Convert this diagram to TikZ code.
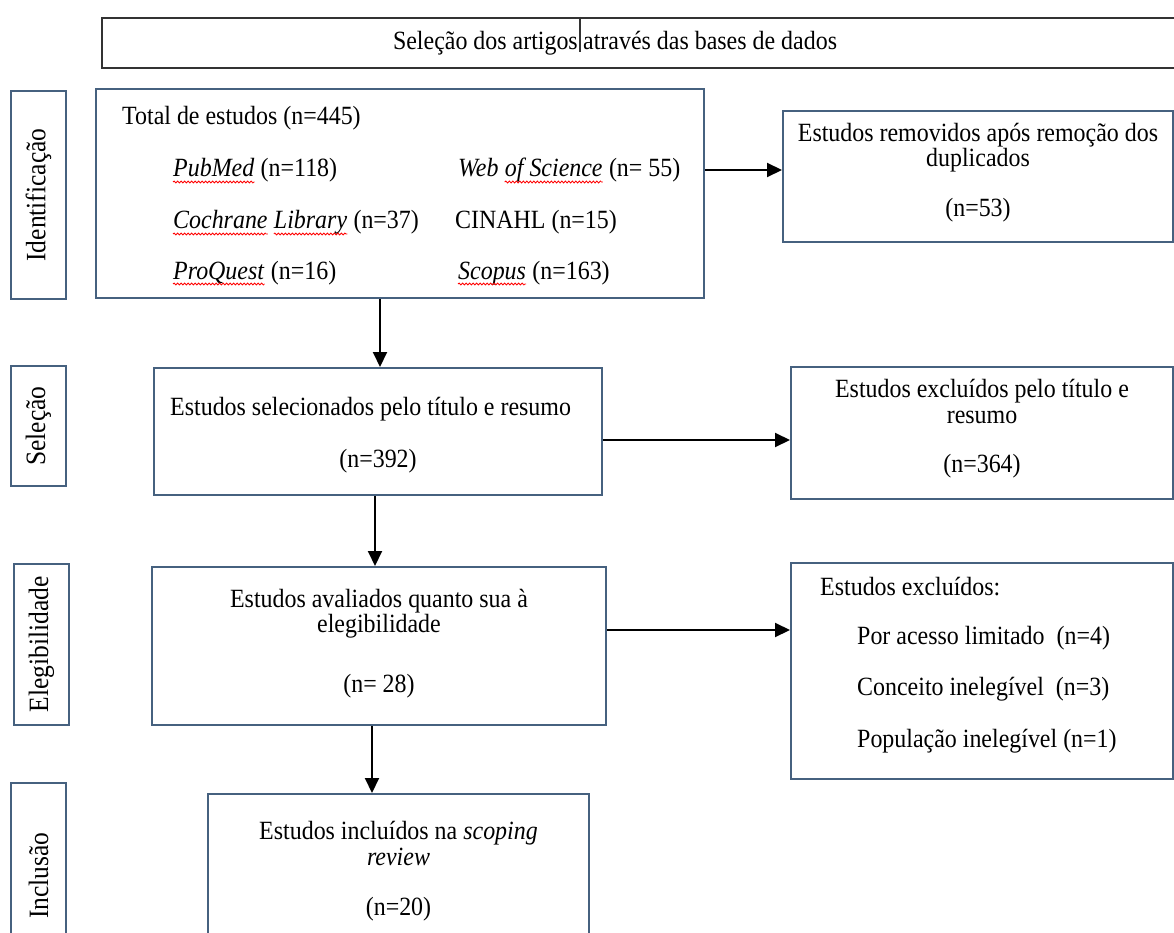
\documentclass[tikz,border=0pt]{standalone}
\usepackage{fontspec}
\setmainfont{Liberation Serif}[FakeStretch=0.91]
\usetikzlibrary{arrows.meta,decorations.pathmorphing}
\definecolor{edge}{HTML}{46617F}
\definecolor{titleedge}{HTML}{333333}
\begin{document}
\begin{tikzpicture}[x=1pt,y=-1pt,
  box/.style={draw=edge, line width=2pt, inner sep=0pt, anchor=north west},
  txt/.style={font=\fontsize{26.3}{28}\selectfont, inner sep=0pt},
  lbl/.style={font=\fontsize{28}{30}\selectfont, rotate=90, inner sep=0pt},
  arr/.style={line width=2pt, -{Triangle[length=15pt,width=14pt]}},
  wave/.style={red, line width=0.8pt, decorate, decoration={snake, amplitude=1pt, segment length=3.5pt}}]
\useasboundingbox (0,0) rectangle (1174,933);
\clip (0,0) rectangle (1174,933);
% title
\node[draw=titleedge, line width=2pt, inner sep=0pt, anchor=north west, minimum width=1100pt, minimum height=50pt] (title) at (101,17) {};
\draw[titleedge, line width=1.5pt] (580,17) -- (580,52);
\node[txt, anchor=base east] (tt1) at (578,50) {Seleção dos artigos};
\node[txt, anchor=base west] (tt2) at (583,50) {através das bases de dados};
% stage labels
\node[box, minimum width=55pt, minimum height=208pt] (lid) at (10,90) {};
\node[lbl] at (lid.center) {Identificação};
\node[box, minimum width=55pt, minimum height=120pt] (lsel) at (10,365) {};
\node[lbl] at (lsel.center) {Seleção};
\node[box, minimum width=55pt, minimum height=161pt] (lel) at (13,563) {};
\node[lbl] at (lel.center) {Elegibilidade};
\node[box, minimum width=55pt, minimum height=165pt] (linc) at (10,782) {};
\node[lbl] at ([yshift=-10pt]linc.center) {Inclusão};
% main boxes
\node[box, minimum width=608pt, minimum height=209pt] (b1) at (95,88) {};
\node[box, minimum width=390pt, minimum height=131pt] (r1) at (782,110) {};
\node[box, minimum width=448pt, minimum height=127pt] (b2) at (153,367) {};
\node[box, minimum width=382pt, minimum height=132pt] (r2) at (790,366) {};
\node[box, minimum width=454pt, minimum height=158pt] (b3) at (151,566) {};
\node[box, minimum width=382pt, minimum height=216pt] (r3) at (790,562) {};
\node[box, minimum width=381pt, minimum height=160pt] (b4) at (207,793) {};
% box 1 text
\node[txt, anchor=base west] (t1) at (122,125) {Total de estudos (n=445)};
\node[txt, anchor=base west] (pm) at (173,177) {\textit{PubMed}};
\node[txt, anchor=base west] (pmn) at ([xshift=6pt]pm.base east) {(n=118)};
\node[txt, anchor=base west] (ws1) at (458,177) {\textit{Web}};
\node[txt, anchor=base west] (ws2) at ([xshift=6pt]ws1.base east) {\textit{of Science}};
\node[txt, anchor=base west] (wsn) at ([xshift=6pt]ws2.base east) {(n= 55)};
\node[txt, anchor=base west] (co1) at (173,229) {\textit{Cochrane}};
\node[txt, anchor=base west] (co2) at ([xshift=6pt]co1.base east) {\textit{Library}};
\node[txt, anchor=base west] (con) at ([xshift=6pt]co2.base east) {(n=37)};
\node[txt, anchor=base west] (ci) at (455,229) {CINAHL (n=15)};
\node[txt, anchor=base west] (pq) at (173,279) {\textit{ProQuest}};
\node[txt, anchor=base west] (pqn) at ([xshift=6pt]pq.base east) {(n=16)};
\node[txt, anchor=base west] (sc) at (458,279) {\textit{Scopus}};
\node[txt, anchor=base west] (scn) at ([xshift=6pt]sc.base east) {(n=163)};
\foreach \w in {pm,ws2,co1,co2,pq,sc}
  \draw[wave] ([yshift=-5pt]\w.base west) -- ([yshift=-5pt]\w.base east);
% r1 text
\node[txt, anchor=base] (r1a) at (r1.north |- 0,142) {Estudos removidos após remoção dos};
\node[txt, anchor=base] (r1b) at (r1.north |- 0,167) {duplicados};
\node[txt, anchor=base] (r1c) at (r1.north |- 0,217) {(n=53)};
% b2 text
\node[txt, anchor=base west] (b2a) at (170,415) {Estudos selecionados pelo título e resumo};
\node[txt, anchor=base] (b2b) at (b2.north |- 0,467) {(n=392)};
% r2 text
\node[txt, anchor=base] (r2a) at (r2.north |- 0,397) {Estudos excluídos pelo título e};
\node[txt, anchor=base] (r2b) at (r2.north |- 0,423) {resumo};
\node[txt, anchor=base] (r2c) at (r2.north |- 0,472) {(n=364)};
% b3 text
\node[txt, anchor=base] (b3a) at (b3.north |- 0,607) {Estudos avaliados quanto sua à};
\node[txt, anchor=base] (b3b) at (b3.north |- 0,632) {elegibilidade};
\node[txt, anchor=base] (b3c) at (b3.north |- 0,692) {(n= 28)};
% r3 text
\node[txt, anchor=base west] (r3a) at (820,595) {Estudos excluídos:};
\node[txt, anchor=base west] (r3b) at (857,644) {Por acesso limitado\ \ (n=4)};
\node[txt, anchor=base west] (r3c) at (857,695) {Conceito inelegível\ \ (n=3)};
\node[txt, anchor=base west] (r3d) at (857,747) {População inelegível (n=1)};
% b4 text
\node[txt, anchor=base] (b4a) at (b4.north |- 0,839) {Estudos incluídos na \textit{scoping}};
\node[txt, anchor=base] (b4b) at (b4.north |- 0,865) {\textit{review}};
\node[txt, anchor=base] (b4c) at (b4.north |- 0,915) {(n=20)};
% connectors
\draw[arr] (b1.east |- 0,170) -- (r1.west |- 0,170);
\draw[arr] (b1.south -| 380,0) -- (b2.north -| 380,0);
\draw[arr] (b2.east |- 0,440) -- (r2.west |- 0,440);
\draw[arr] (b2.south -| 375,0) -- (b3.north -| 375,0);
\draw[arr] (b3.east |- 0,630) -- (r3.west |- 0,630);
\draw[arr] (b3.south -| 372,0) -- (b4.north -| 372,0);
\end{tikzpicture}
\end{document}
